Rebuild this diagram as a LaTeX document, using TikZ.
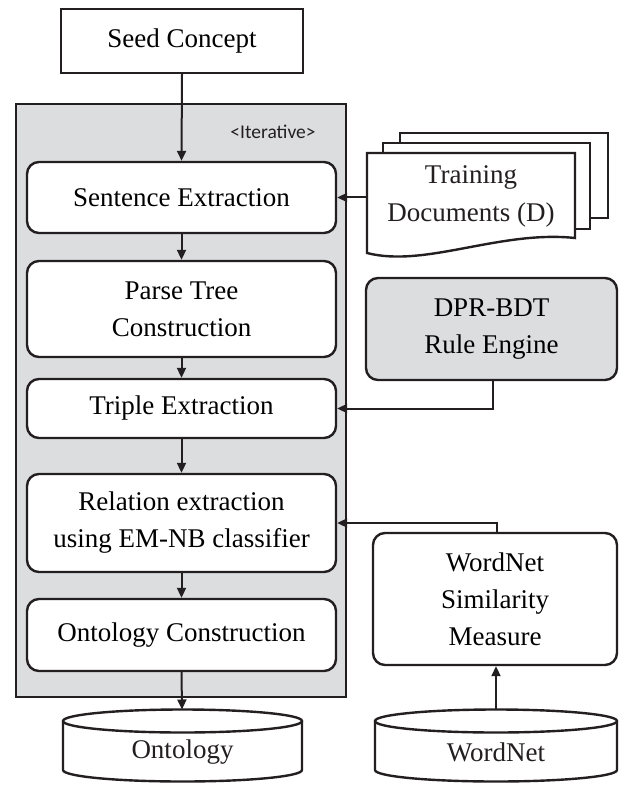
\documentclass[tikz,border=0pt]{standalone}
\usepackage{fontspec}
\setmainfont{Liberation Serif}
\newfontfamily\labelfont{Carlito}
\usetikzlibrary{arrows.meta}
\definecolor{ink}{HTML}{231F20}
\definecolor{panel}{HTML}{DCDDDF}
\tikzset{
  box/.style={draw=ink, line width=2.4pt, fill=white, align=center,
    font=\fontsize{27}{37}\selectfont, inner sep=0pt},
  roundbox/.style={box, rounded corners=12pt},
  flow/.style={draw=ink, line width=2pt, -{Triangle[length=10pt,width=9pt]}},
  shell/.style={draw=ink, line width=2.4pt},
}
\begin{document}
\begin{tikzpicture}[x=1pt, y=-1pt]
\useasboundingbox (0,0) rectangle (622,786);

% iterative loop panel
\node[shell, fill=panel, minimum width=330pt, minimum height=593pt] (loop) at (181,400.5) {};
\node[font=\labelfont\fontsize{19.5}{22}\selectfont, text=ink] (iter) at (273,132) {<Iterative>};

% seed
\node[box, minimum width=242pt, minimum height=64pt] (seed) at (182,41) {Seed Concept};

% pipeline steps
\node[roundbox, minimum width=309pt, minimum height=71pt] (sent) at (181.5,197.5) {Sentence Extraction};
\node[roundbox, minimum width=309pt, minimum height=96pt] (parse) at (181.5,309) {Parse Tree\\Construction};
\node[roundbox, minimum width=309pt, minimum height=59pt] (triple) at (181.5,408.5) {Triple Extraction};
\node[roundbox, minimum width=309pt, minimum height=98pt] (rel) at (181.5,523) {Relation extraction\\using EM-NB classifier};
\node[roundbox, minimum width=309pt, minimum height=72pt] (ontc) at (181.5,635) {Ontology Construction};

% training document stack
\draw[shell, fill=white] (400,133) rectangle (608,218);
\draw[shell, fill=white] (383,143) rectangle (590,229);
\draw[shell, fill=white] (367,153) -- (575,153) -- (575,238)
  .. controls (500,230) and (425,268) .. (367,253) -- cycle;
\node[align=center, font=\fontsize{27}{38}\selectfont, text=ink] (docs) at (471,196) {Training\\Documents (D)};
\coordinate (docin) at (367,197.5);

% rule engine
\node[roundbox, fill=panel, minimum width=251pt, minimum height=102pt] (dpr) at (491.5,329) {DPR-BDT\\Rule Engine};

% similarity measure
\node[roundbox, minimum width=244pt, minimum height=132pt] (wsm) at (495,599) {WordNet\\Similarity\\Measure};

% ontology store
\draw[shell, fill=white] (63,721) -- (63,770)
  arc[start angle=180, end angle=360, x radius=119.5pt, y radius=11.5pt] -- (302,721);
\draw[shell, fill=white] (182.5,721) ellipse[x radius=119.5pt, y radius=11.5pt];
\node[font=\fontsize{27}{37}\selectfont, text=ink] (onto) at (182.5,752) {Ontology};
\coordinate (ontotop) at (182,709.5);

% wordnet store
\draw[shell, fill=white] (375,721) -- (375,770)
  arc[start angle=180, end angle=360, x radius=121pt, y radius=11.5pt] -- (617,721);
\draw[shell, fill=white] (496,721) ellipse[x radius=121pt, y radius=11.5pt];
\node[font=\fontsize{27}{37}\selectfont, text=ink] (wn) at (496,752) {WordNet};
\coordinate (wntop) at (496,709.5);

% connectors
\draw[flow] (seed.south) -- (sent.north);
\draw[flow] (sent.south) -- (parse.north);
\draw[flow] (parse.south) -- (triple.north);
\draw[flow] (triple.south) -- (rel.north);
\draw[flow] (rel.south) -- (ontc.north);
\draw[flow] (ontc.south) -- (ontotop);
\draw[flow] (docin) -- (sent.east);
\draw[flow] (dpr.south -| 493,0) |- (triple.east);
\draw[flow] (wsm.north -| 497,0) |- (rel.east);
\draw[flow] (wntop) -- (wsm.south -| wntop);
\end{tikzpicture}
\end{document}
